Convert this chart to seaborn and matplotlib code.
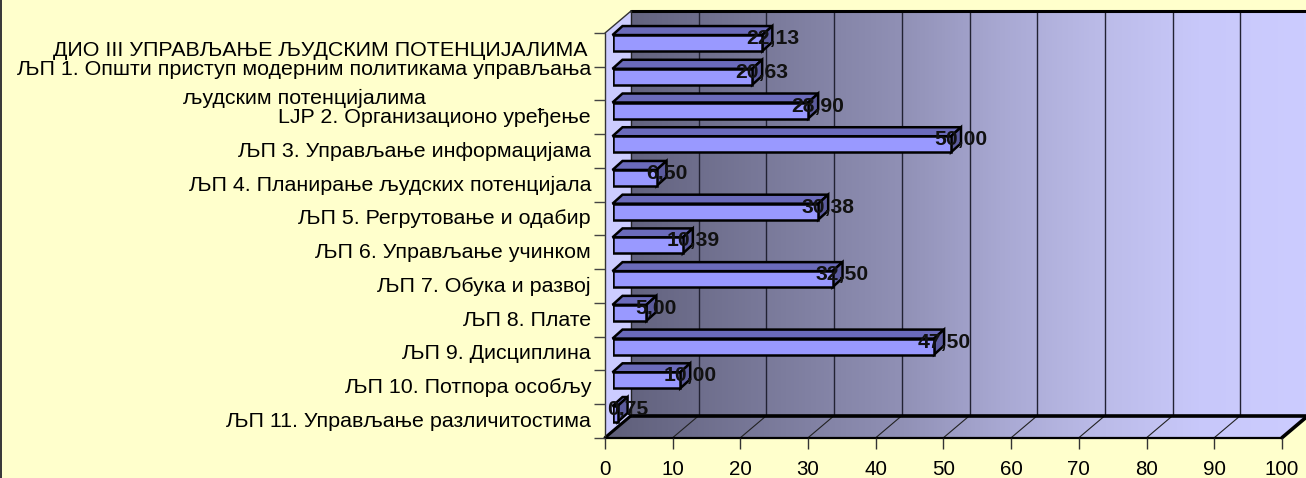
import numpy as np
import pandas as pd
import matplotlib.pyplot as plt
from matplotlib.colors import LinearSegmentedColormap
from matplotlib.patches import Polygon, Rectangle
from matplotlib.transforms import ScaledTranslation
import seaborn as sns

categories = [
    "ДИО III УПРАВЉАЊЕ ЉУДСКИМ ПОТЕНЦИЈАЛИМА",
    "ЉП 1. Општи приступ модерним политикама управљања\nљудским потенцијалима",
    "LJP 2. Организационо уређење",
    "ЉП 3. Управљање информацијама",
    "ЉП 4. Планирање људских потенцијала",
    "ЉП 5. Регрутовање и одабир",
    "ЉП 6. Управљање учинком",
    "ЉП 7. Обука и развој",
    "ЉП 8. Плате",
    "ЉП 9. Дисциплина",
    "ЉП 10. Потпора особљу",
    "ЉП 11. Управљање различитостима",
]
values = [22.13, 20.63, 28.90, 50.00, 6.50, 30.38, 10.39, 32.50, 5.00, 47.50, 10.00, 0.75]
xticks = list(range(0, 101, 10))

W, H = 1306, 478
BG = "#FFFFCC"
x0, x100 = 605, 1282      # front plane
ytop, ybot = 33, 437.7
depth_x, depth_y = 26, 22  # back wall offset
bar_off_x, bar_off_y = 7.5, 6.8  # bars sit a little inside the box
face_dx, face_dy = 10, 9   # depth of a bar

sns.set_theme(style="white")
plt.rcParams["font.family"] = ["Liberation Sans", "DejaVu Sans"]
FS = 15.4

df = pd.DataFrame({"category": categories, "value": values})
fig = plt.figure(figsize=(W / 100, H / 100), dpi=100, facecolor=BG)


def axes_px(left, top, right, bottom, **kw):
    return fig.add_axes([left / W, 1 - bottom / H, (right - left) / W, (bottom - top) / H], **kw)


# box behind the chart, in pixels
bg = axes_px(0, 0, W, H)
bg.set_xlim(0, W)
bg.set_ylim(H, 0)
bg.axis("off")
bg.add_patch(Rectangle((0, 0), 2, H, fc="#3a3a3a", ec="none"))

# colour ramp read along the wall (pixel x -> colour)
ramp_x = [605, 631, 900, 1000, 1100, 1200, 1306]
ramp_c = ["#5E5E78", "#63637F", "#9090B5", "#A8A8D2", "#BBBBE8", "#C8C8FA", "#CCCCFF"]
stops = [(x - ramp_x[0]) / (ramp_x[-1] - ramp_x[0]) for x in ramp_x]
cmap = LinearSegmentedColormap.from_list("wall", list(zip(stops, ramp_c)))
grad = np.linspace(0, 1, 512).reshape(1, -1)
back_l, back_t, back_b = x0 + depth_x, ytop - depth_y, ybot - depth_y

bg.add_patch(Polygon([(x0, ytop), (back_l, back_t), (back_l, back_b), (x0, ybot)],
                     fc="#CCCCFF", ec="none", zorder=1))
clip = Polygon([(back_l, back_t), (W + 2, back_t), (W + 2, back_b), (x100, ybot), (x0, ybot), (back_l, back_b)],
               fc="none", ec="none", transform=bg.transData)
bg.add_patch(clip)
wall = bg.imshow(grad, cmap=cmap, aspect="auto", extent=(x0, W, ybot, back_t), zorder=1)
wall.set_clip_path(clip)
bg.set_xlim(0, W)
bg.set_ylim(H, 0)

scale = (x100 - x0) / 100
for t in xticks[1:]:
    fx = x0 + t * scale
    if t < 100:
        bg.plot([fx + depth_x] * 2, [back_t, back_b], color="#222233", lw=1, zorder=2)
        bg.plot([fx, fx + depth_x], [ybot, back_b], color="#222222", lw=0.8, zorder=2)
bg.plot([back_l, W], [back_t, back_t], color="black", lw=2.2, zorder=3)
bg.plot([back_l, W], [back_b, back_b], color="black", lw=2.6, zorder=3)
bg.plot([back_l, back_l], [back_t, back_b], color="#222222", lw=1, zorder=3)
bg.plot([x0, back_l], [ytop, back_t], color="#333333", lw=1, zorder=3)
bg.plot([x0, back_l], [ybot, back_b], color="black", lw=2.2, zorder=3)
bg.plot([x100, x100 + depth_x], [ybot, back_b], color="black", lw=2.6, zorder=3)
bg.plot([x0, x0], [ytop, ybot], color="#333333", lw=1, zorder=3)
bg.plot([x0, x100], [ybot, ybot], color="black", lw=1.6, zorder=3)

# front plane: carries the tick labels
ax = axes_px(x0, ytop, x100, ybot)
ax.patch.set_alpha(0)
for s in ax.spines.values():
    s.set_visible(False)
n = len(categories)
ax.set_xlim(0, 100)
ax.set_ylim(n, 0)
ax.set_xticks(xticks)
ax.set_xticklabels([str(t) for t in xticks], fontsize=14.8, color="black")
ax.set_yticks(range(n + 1))
ax.set_yticklabels([])
ax.set_yticks(np.arange(n) + 0.5, minor=True)
ylabels = ax.set_yticklabels(categories, minor=True, fontsize=FS, color="black", ma="center", linespacing=1.64)
ax.tick_params(axis="x", which="major", length=8, width=1, color="#333333", pad=8, bottom=True)
ax.tick_params(axis="y", which="major", length=8, width=1, color="#444444", left=True)
ax.tick_params(axis="y", which="minor", length=0, pad=10)
ax.grid(False)

# nudge the labels, the two-line one sits higher than its band
for i, lab in enumerate(ylabels):
    shift_x = -4 if i == 0 else 0
    shift_y = 6.5 if "\n" in lab.get_text() else 1.5
    lab.set_transform(lab.get_transform() + ScaledTranslation(shift_x / 100, shift_y / 100, fig.dpi_scale_trans))

# bars
ax_bar = axes_px(x0 + bar_off_x, ytop - bar_off_y, x100 + bar_off_x, ybot - bar_off_y)
ax_bar.patch.set_alpha(0)
sns.barplot(data=df, x="value", y="category", orient="h", color="#9999FF", saturation=1,
            width=16 / 33.7, edgecolor="black", linewidth=1.8, ax=ax_bar, zorder=5)
ax_bar.set_xlim(0, 100)
ax_bar.set_ylim(n - 0.5, -0.5)
ax_bar.axis("off")

dx = face_dx / scale
dy = face_dy / ((ybot - ytop) / n)
for p, v in zip(ax_bar.patches, values):
    y = p.get_y()
    ax_bar.add_patch(Polygon([(0, y), (dx, y - dy), (v + dx, y - dy), (v, y)],
                             fc="#6B6BBB", ec="black", lw=1.8, zorder=4, clip_on=False))
    ax_bar.add_patch(Polygon([(v, y), (v + dx, y - dy), (v + dx, y - dy + p.get_height()), (v, y + p.get_height())],
                             fc="#5C5C9E", ec="black", lw=1.8, zorder=4, clip_on=False))
    ax_bar.text(v + dx, y + p.get_height() / 2 - 4.5 / 33.7, f"{v:.2f}".replace(".", ","),
                ha="center", va="center", fontsize=15.2, fontweight="bold", color="#111111",
                zorder=8, clip_on=False)

fig.savefig("out.png", dpi=100, facecolor=BG)
